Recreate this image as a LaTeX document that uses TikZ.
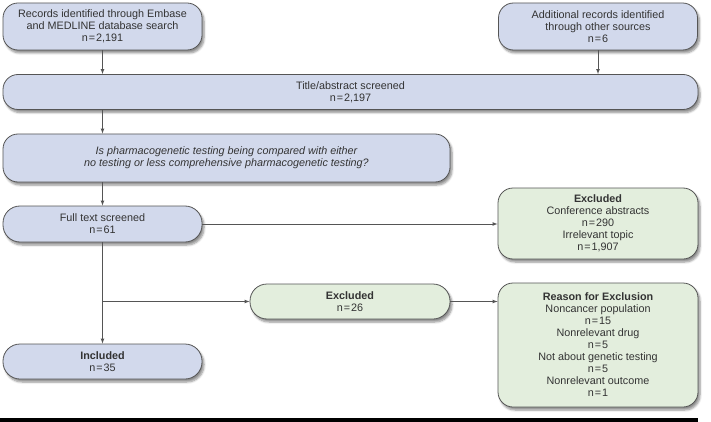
\documentclass[tikz,border=0pt]{standalone}
\usepackage{fontspec}
\setmainfont{Liberation Sans}
\usetikzlibrary{shadows.blur}

\definecolor{boxblue}{HTML}{D2D9EC}
\definecolor{boxgreen}{HTML}{E3EEDD}
\definecolor{edgegray}{HTML}{555555}
\definecolor{textgray}{HTML}{333333}

\newcommand{\cnt}[1]{n\kern1pt=\kern1pt#1}

\tikzset{
  flowbox/.style={draw=edgegray, line width=.8pt, rounded corners=15pt, align=center,
    text=textgray, inner sep=0pt, font=\fontsize{10.8}{12}\selectfont,
    blur shadow={shadow xshift=2pt, shadow yshift=-3pt, shadow blur steps=6, shadow opacity=45}},
  bluebox/.style={flowbox, fill=boxblue},
  greenbox/.style={flowbox, fill=boxgreen},
  arrowline/.style={- latex, draw=edgegray, line width=.7pt}
}

\begin{document}
\begin{tikzpicture}[x=1pt, y=-1pt]
\def\w{199}
\useasboundingbox (0,0) rectangle (711,422);

%%%%%%%%%%%%%-------------identification
\node[bluebox, minimum width=\w, minimum height=47] (rec) at (102.5,26.5)
  {Records identified through Embase\\and MEDLINE database search\\\cnt{2,191}};
\node[bluebox, minimum width=\w, minimum height=47] (add) at (598,26.5)
  {Additional records identified\\through other sources\\\cnt{6}};
\node[bluebox, minimum width=695, minimum height=35] (title) at (350.5,92)
  {Title/abstract screened\\\cnt{2,197}};
\node[bluebox, minimum width=447, minimum height=48] (quest) at (226.5,158)
  {\itshape Is pharmacogenetic testing being compared with either\\\itshape no testing or less comprehensive pharmacogenetic testing?};

%%%%%%%%%%%%%-------------screening
\node[bluebox, rounded corners=17pt, minimum width=\w, minimum height=36] (full) at (102.5,224)
  {Full text screened\\\cnt{61}};
\node[greenbox, minimum width=200, minimum height=71] (excl) at (598,223.5)
  {\textbf{Excluded}\\Conference abstracts\\\cnt{290}\\Irrelevant topic\\\cnt{1,907}};
\node[greenbox, rounded corners=17pt, minimum width=200, minimum height=35] (excltwo) at (350,301.5)
  {\textbf{Excluded}\\\cnt{26}};
\node[greenbox, minimum width=200, minimum height=124] (reason) at (598,345)
  {\textbf{Reason for Exclusion}\\Noncancer population\\\cnt{15}\\Nonrelevant drug\\\cnt{5}\\Not about genetic testing\\\cnt{5}\\Nonrelevant outcome\\\cnt{1}};
\node[bluebox, rounded corners=17pt, minimum width=\w, minimum height=35] (incl) at (102.5,361.5)
  {\textbf{Included}\\\cnt{35}};

%%%%%%%%%%%%%-------------connectors
\draw[arrowline] (rec.south) -- (rec.south |- title.north);
\draw[arrowline] (add.south) -- (add.south |- title.north);
\draw[arrowline] (title.south -| rec.south) -- (quest.north -| rec.south);
\draw[arrowline] (quest.south -| full.north) -- (full.north);
\draw[arrowline] (full.east) -- (full.east -| excl.west);
\draw[arrowline] (full.south) -- (incl.north);
\coordinate (branch) at (full.south |- excltwo.west);
\draw[arrowline] (branch) -- (excltwo.west);
\draw[arrowline] (excltwo.east) -- (excltwo.east -| reason.west);

\fill[black] (0,418) rectangle (698,422);

\end{tikzpicture}
\end{document}
